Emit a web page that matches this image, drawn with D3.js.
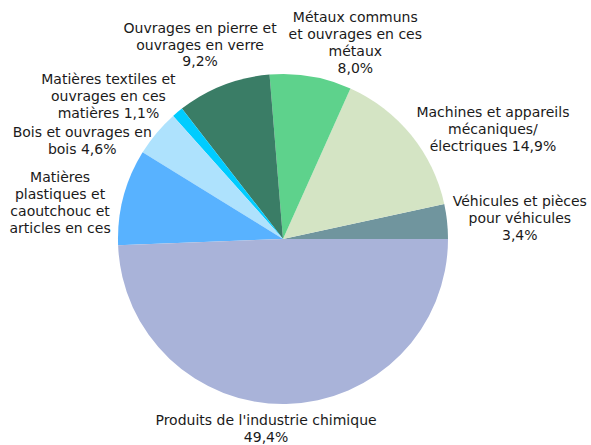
<!DOCTYPE html>
<html>
<head>
<meta charset="utf-8">
<script src="https://cdnjs.cloudflare.com/ajax/libs/d3/7.8.5/d3.min.js"></script>
<style>
  body { margin: 0; background: #fff; }
  text { font-family: "DejaVu Sans", Verdana, sans-serif; font-size: 14px; fill: #1a1a1a; }
</style>
</head>
<body>
<div id="chart"></div>
<script>
// slices in drawing order, counter-clockwise from 3 o'clock
var labels = [
  ["Véhicules et pièces", "pour véhicules", "3,4%"],
  ["Machines et appareils", "mécaniques/", "électriques 14,9%"],
  ["Métaux communs", "et ouvrages en ces", "métaux", "8,0%"],
  ["Ouvrages en pierre et", "ouvrages en verre", "9,2%"],
  ["Matières textiles et", "ouvrages en ces", "matières 1,1%"],
  ["Bois et ouvrages en", "bois 4,6%"],
  ["Matières", "plastiques et", "caoutchouc et", "articles en ces"],
  ["Produits de l'industrie chimique", "49,4%"]
];
var values = [3.4, 14.9, 8.0, 9.2, 1.1, 4.6, 9.4, 49.4];
var colors = ["#70959e", "#d4e4c4", "#5ed28c", "#3a7d66", "#00ccff", "#aee2fd", "#58b2ff", "#a9b3d9"];

(function() {
  var width = 591, height = 445,
      cx = 283, cy = 239, radius = 165,
      labelR = 215, lineH = 17;

  // hand nudges from the label ring to where the original put each label
  var nudge = [[23, 2], [43, 26], [36, 16], [-5, 6], [-37, 22], [-36, 40], [-15, 18], [-21, -25]];

  var svg = d3.select("#chart").append("svg")
    .attr("width", width)
    .attr("height", height);

  var g = svg.append("g")
    .attr("transform", "translate(" + cx + "," + cy + ")");

  // d3 angles run clockwise from 12 o'clock; go counter-clockwise from 3 o'clock
  var pie = d3.pie()
    .sort(null)
    .value(function(d) { return d; })
    .startAngle(Math.PI / 2)
    .endAngle(Math.PI / 2 - 2 * Math.PI);

  var arc = d3.arc().innerRadius(0).outerRadius(radius);
  var labelArc = d3.arc().innerRadius(labelR).outerRadius(labelR);

  var arcs = pie(values);

  g.selectAll("path.slice")
    .data(arcs)
    .enter().append("path")
    .attr("class", "slice")
    .attr("d", arc)
    .attr("fill", function(d, i) { return colors[i]; });

  var lab = g.selectAll("text.label")
    .data(arcs)
    .enter().append("text")
    .attr("class", "label")
    .attr("text-anchor", "middle")
    .attr("transform", function(d, i) {
      var c = labelArc.centroid(d);
      return "translate(" + (c[0] + nudge[i][0]) + "," + (c[1] + nudge[i][1]) + ")";
    });

  lab.each(function(d, i) {
    var t = d3.select(this);
    var n = labels[i].length;
    labels[i].forEach(function(line, k) {
      t.append("tspan")
        .attr("x", 0)
        .attr("y", (k - (n - 1) / 2) * lineH)
        .attr("dy", "0.35em")
        .text(line);
    });
  });
})();
</script>
</body>
</html>
